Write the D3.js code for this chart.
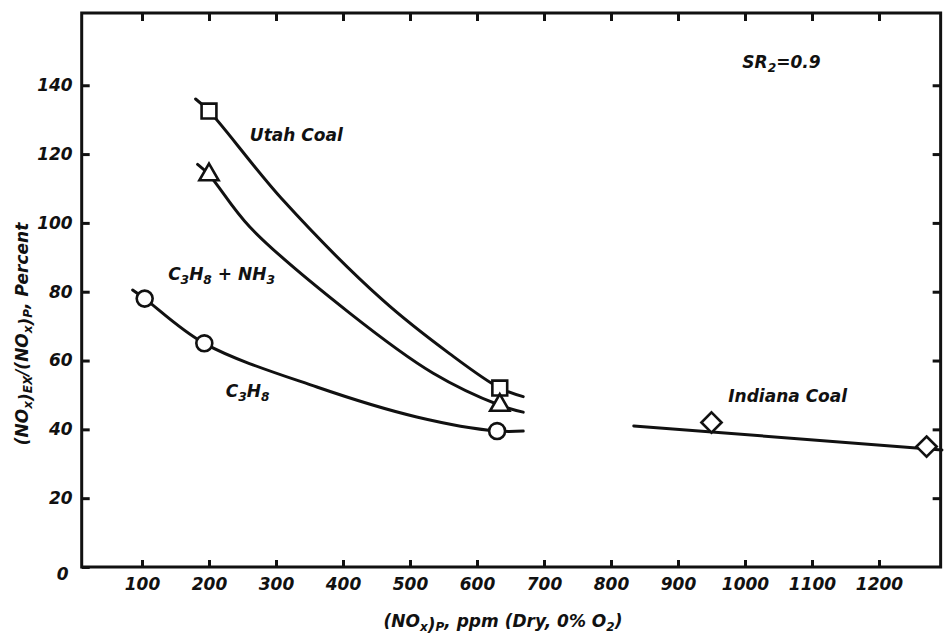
<!DOCTYPE html>
<html>
<head>
<meta charset="utf-8">
<script src="https://cdn.jsdelivr.net/npm/d3@7"></script>
<style>
  body { margin: 0; background: #fff; }
  svg text { font-family: "DejaVu Sans", sans-serif; font-style: italic; font-weight: bold; fill: #111; }
</style>
</head>
<body>
<svg width="945" height="634"></svg>
<script>
// measured points (markers)
var utahPts = [[200, 132.5], [634, 52]];
var nh3Pts = [[200, 114], [634, 47]];
var c3h8Pts = [[104, 78], [193, 65], [630, 39.5]];
var indianaPts = [[950, 42], [1271, 35]];

// faired curves as drawn
var utahCurve = [[180, 136], [200, 132.5], [310, 106.7], [459, 77.6], [559, 62], [634, 52], [669, 49.5]];
var nh3Curve = [[183, 117], [200, 114], [261, 98.8], [410, 73.8], [534, 56.4], [634, 47], [669, 45]];
var c3h8Curve = [[86, 80.5], [104, 78], [193, 65], [361, 52.3], [510, 43.6], [630, 39.5], [669, 39.5]];
var indianaCurve = [[834, 41], [1294, 34]];

var xTicks = [100, 200, 300, 400, 500, 600, 700, 800, 900, 1000, 1100, 1200];
var yTicks = [0, 20, 40, 60, 80, 100, 120, 140];

var svg = d3.select("svg"),
    width = +svg.attr("width"),
    height = +svg.attr("height");

var x = d3.scaleLinear().domain([0, 1300]).range([75, 946]);
var y = d3.scaleLinear().domain([0, 161]).range([567, 13]);

var fLeft = x(10), fRight = x(1292), fTop = y(161), fBottom = y(0);

// frame
svg.append("rect")
    .attr("x", fLeft).attr("y", fTop)
    .attr("width", fRight - fLeft).attr("height", fBottom - fTop)
    .attr("fill", "none").attr("stroke", "#111").attr("stroke-width", 3);

function styleAxis(g) {
    g.select(".domain").remove();
    g.selectAll(".tick line").attr("stroke", "#111").attr("stroke-width", 3);
    g.selectAll(".tick text").attr("font-size", 17).attr("fill", "#111")
        .attr("font-family", "DejaVu Sans").attr("font-style", "italic").attr("font-weight", "bold");
}

svg.append("g").attr("transform", "translate(0," + fBottom + ")")
    .call(d3.axisBottom(x).tickValues(xTicks).tickSize(-7).tickPadding(11).tickFormat(d3.format("d")))
    .call(styleAxis);

svg.append("g").attr("transform", "translate(0," + fTop + ")")
    .call(d3.axisTop(x).tickValues(xTicks).tickSize(-8).tickFormat(""))
    .call(styleAxis);

var ya = svg.append("g").attr("transform", "translate(" + fLeft + ",0)")
    .call(d3.axisLeft(y).tickValues(yTicks).tickSize(-8).tickPadding(9))
    .call(styleAxis);
ya.selectAll(".tick").filter(function(d) { return d === 0; })
    .select("text").attr("dy", "0.75em").attr("x", -13);

svg.append("g").attr("transform", "translate(" + fRight + ",0)")
    .call(d3.axisRight(y).tickValues(yTicks.slice(1)).tickSize(-8).tickFormat(""))
    .call(styleAxis);

// curves
var line = d3.line()
    .x(function(d) { return x(d[0]); })
    .y(function(d) { return y(d[1]); })
    .curve(d3.curveCatmullRom.alpha(0.5));

[utahCurve, nh3Curve, c3h8Curve, indianaCurve].forEach(function(c) {
    svg.append("path").datum(c)
        .attr("d", line)
        .attr("fill", "none")
        .attr("stroke", "#111")
        .attr("stroke-width", 3)
        .attr("stroke-linecap", "round");
});

// markers
function marker(pts, type, size) {
    svg.selectAll(null).data(pts).enter().append("path")
        .attr("transform", function(d) { return "translate(" + x(d[0]) + "," + y(d[1]) + ")"; })
        .attr("d", d3.symbol().type(type).size(size))
        .attr("fill", "#fff")
        .attr("stroke", "#111")
        .attr("stroke-width", 2.6);
}
marker(utahPts, d3.symbolSquare, 220);
marker(nh3Pts, d3.symbolTriangle, 160);
marker(c3h8Pts, d3.symbolCircle, 200);
marker(indianaPts, d3.symbolDiamond2, 260);

// annotations
function label(pos, parts, size) {
    size = size || 17;
    var t = svg.append("text")
        .attr("x", x(pos[0])).attr("y", y(pos[1]))
        .attr("font-size", size);
    parts.forEach(function(p) {
        if (p[1] === "sub") {
            t.append("tspan").attr("font-size", size * 0.72).attr("dy", 4).text(p[0]);
        } else if (p[1] === "up") {
            t.append("tspan").attr("dy", -4).text(p[0]);
        } else {
            t.append("tspan").text(p[0]);
        }
    });
    return t;
}

label([261, 123.8], [["Utah Coal"]]);
label([139, 83.4], [["C"], ["3", "sub"], ["H", "up"], ["8", "sub"], [" + NH", "up"], ["3", "sub"]]);
label([225, 49.4], [["C"], ["3", "sub"], ["H", "up"], ["8", "sub"]]);
label([975, 48], [["Indiana Coal"]]);
label([996, 145], [["SR"], ["2", "sub"], ["=0.9", "up"]]);

// axis titles
var xt = svg.append("text").attr("x", 503).attr("y", 627)
    .attr("text-anchor", "middle").attr("font-size", 17);
xt.append("tspan").text("(NO");
xt.append("tspan").attr("font-size", 12).attr("dy", 4).text("x");
xt.append("tspan").text(")");
xt.append("tspan").attr("font-size", 12).text("P");
xt.append("tspan").attr("dy", -4).text(", ppm (Dry, 0% O");
xt.append("tspan").attr("font-size", 12).attr("dy", 4).text("2");
xt.append("tspan").attr("dy", -4).text(")");

var yt = svg.append("text").attr("transform", "translate(28,334) rotate(-90)")
    .attr("text-anchor", "middle").attr("font-size", 17);
yt.append("tspan").text("(NO");
yt.append("tspan").attr("font-size", 12).attr("dy", 4).text("x");
yt.append("tspan").text(")");
yt.append("tspan").attr("font-size", 12).text("EX");
yt.append("tspan").attr("dy", -4).text("/(NO");
yt.append("tspan").attr("font-size", 12).attr("dy", 4).text("x");
yt.append("tspan").text(")");
yt.append("tspan").attr("font-size", 12).text("P");
yt.append("tspan").attr("dy", -4).text(", Percent");
</script>
</body>
</html>
